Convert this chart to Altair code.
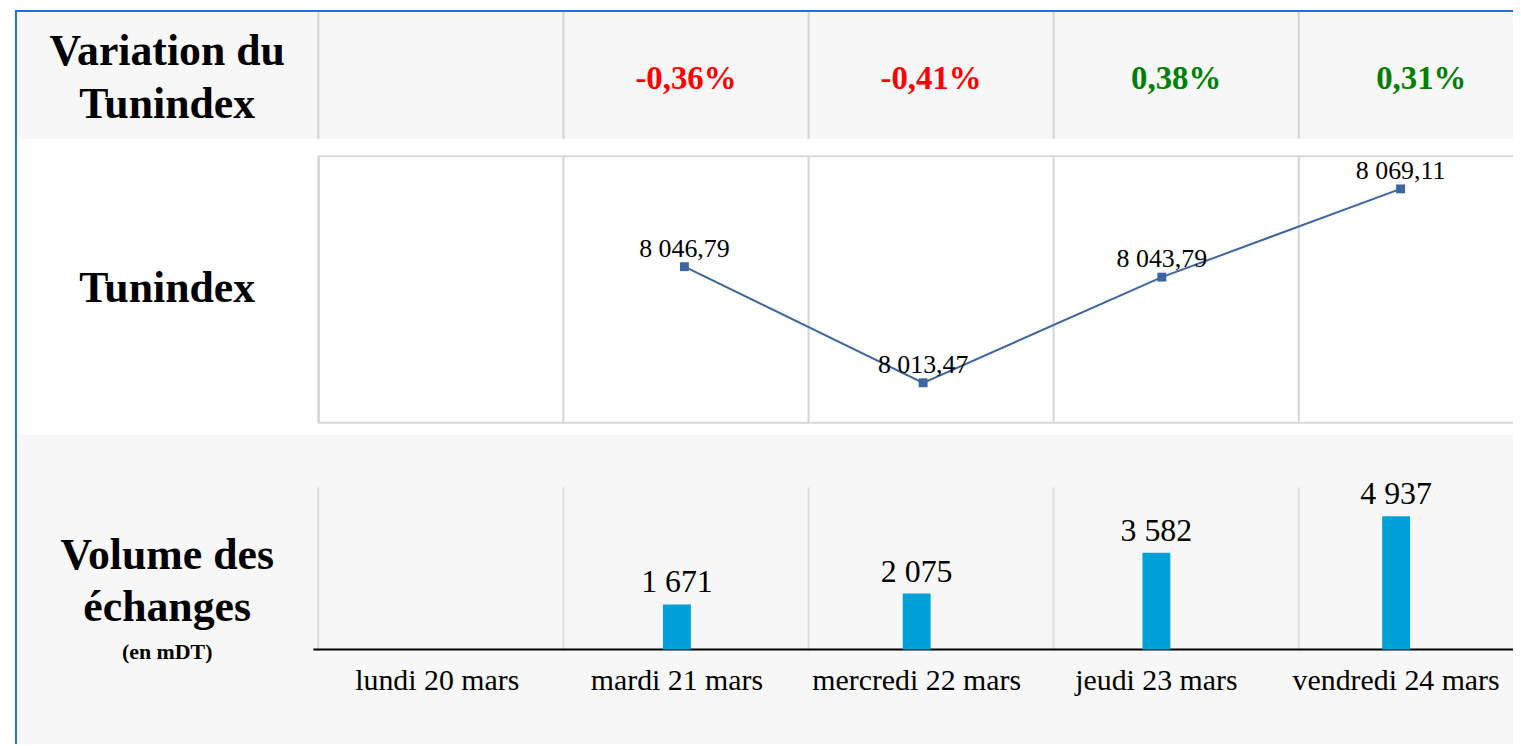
import altair as alt
import pandas as pd

# ---------------- data ----------------
days = ["lundi 20 mars", "mardi 21 mars", "mercredi 22 mars", "jeudi 23 mars", "vendredi 24 mars"]
tunindex = [None, 8046.79, 8013.47, 8043.79, 8069.11]
volume = [None, 1671, 2075, 3582, 4937]
variation = [None, -0.36, -0.41, 0.38, 0.31]

W, H = 1513, 738
FONT = "Liberation Serif"
GRID = "#d4d4d4"
BAND = "#f7f7f7"
BLUE_BORDER = "#2271d4"
LINE_COL = "#3c65a1"
BAR_COL = "#00a0d8"


def fr_num(v, dec):
    s = f"{v:,.{dec}f}"
    return s.replace(",", " ").replace(".", ",")


rows = []
for d, t, v, p in zip(days, tunindex, volume, variation):
    rows.append(dict(
        day=d, tun=t, vol=v, var=p,
        tun_lbl=fr_num(t, 2) if t is not None else "",
        vol_lbl=fr_num(v, 0) if v is not None else "",
        var_lbl=(f"{p:.2f}%".replace(".", ",")) if p is not None else "",
    ))
df = pd.DataFrame(rows)
df_days = df[["day"]]
df_vals = df.dropna(subset=["tun"]).copy()
one = pd.DataFrame({"k": [0]})

# ---------------- scales ----------------
xTable = alt.Scale(type="band", domain=days, range=[312, 1544], paddingInner=0, paddingOuter=0)
xBar = alt.Scale(type="band", domain=days, range=[311, 1516], paddingInner=0, paddingOuter=0)
xLine = alt.Scale(type="band", domain=days, range=[320, 1520], paddingInner=0, paddingOuter=0)
yBar = alt.Scale(domain=[0, 6000], range=[643, 480], zero=True)
yLine = alt.Scale(domain=[8002, 8078.5], range=[415, 147], zero=False)

base1 = alt.Chart(one)
baseD = alt.Chart(df_days)
baseV = alt.Chart(df_vals)

# backgrounds
bg_top = base1.mark_rect(color=BAND).encode(
    x=alt.value(9), x2=alt.value(W), y=alt.value(2), y2=alt.value(129.5))
bg_bot = base1.mark_rect(color=BAND).encode(
    x=alt.value(9), x2=alt.value(W), y=alt.value(427), y2=alt.value(H))

# blue border
border_left = base1.mark_rule(color=BLUE_BORDER, strokeWidth=2).encode(
    x=alt.value(8), y=alt.value(0), y2=alt.value(H))
border_top = base1.mark_rule(color=BLUE_BORDER, strokeWidth=2).encode(
    x=alt.value(7), x2=alt.value(W), y=alt.value(1))

# top band separators (table columns)
sep_top = baseD.mark_rule(color=GRID, strokeWidth=2).encode(
    x=alt.X("day:N", scale=xTable, bandPosition=0, axis=None),
    y=alt.value(2), y2=alt.value(129.5))

# middle frame + grid
frame = base1.mark_rect(fill="white", stroke="#d9d9d9", strokeWidth=2).encode(
    x=alt.value(312.5), x2=alt.value(W + 30), y=alt.value(147), y2=alt.value(415))
grid_mid = baseD.mark_rule(color=GRID, strokeWidth=2).encode(
    x=alt.X("day:N", scale=xTable, bandPosition=0, axis=None),
    y=alt.value(147), y2=alt.value(415))

# bottom grid + axis line
grid_bot = baseD.mark_rule(color="#dcdcdc", strokeWidth=2).encode(
    x=alt.X("day:N", scale=xTable, bandPosition=0, axis=None),
    y=alt.value(480), y2=alt.value(644))
axis_line = base1.mark_rule(color="black", strokeWidth=2).encode(
    x=alt.value(307), x2=alt.value(W), y=alt.value(643))

# bars
bars = baseV.mark_bar(color=BAR_COL, width=28).encode(
    x=alt.X("day:N", scale=xBar, axis=None),
    y=alt.Y("vol:Q", scale=yBar, axis=None))
bar_lbl = baseV.mark_text(dy=-12, baseline="alphabetic", fontSize=32, font=FONT, color="black").encode(
    x=alt.X("day:N", scale=xBar, bandPosition=0.5, axis=None),
    y=alt.Y("vol:Q", scale=yBar, axis=None),
    text="vol_lbl:N")

# line
line = baseV.mark_line(color=LINE_COL, strokeWidth=2).encode(
    x=alt.X("day:N", scale=xLine, bandPosition=0.5, axis=None),
    y=alt.Y("tun:Q", scale=yLine, axis=None))
pts = baseV.mark_point(shape="square", filled=True, size=80, color=LINE_COL, opacity=1).encode(
    x=alt.X("day:N", scale=xLine, bandPosition=0.5, axis=None),
    y=alt.Y("tun:Q", scale=yLine, axis=None))
line_lbl = baseV.mark_text(dy=-10, baseline="alphabetic", fontSize=26, font=FONT, color="black").encode(
    x=alt.X("day:N", scale=xLine, bandPosition=0.5, axis=None),
    y=alt.Y("tun:Q", scale=yLine, axis=None),
    text="tun_lbl:N")

# variation row
var_txt = baseV.mark_text(baseline="alphabetic", fontSize=33, font=FONT, fontWeight="bold").encode(
    x=alt.X("day:N", scale=xTable, bandPosition=0.5, axis=None),
    y=alt.value(79),
    text="var_lbl:N",
    color=alt.condition("datum.var < 0", alt.value("#ff0000"), alt.value("#008000")))

# row headers
hdr1 = base1.mark_text(baseline="alphabetic", fontSize=44, font=FONT, fontWeight="bold",
                       lineHeight=54, align="center", color="black").encode(
    x=alt.value(160), y=alt.value(55), text=alt.value(["Variation du", "Tunindex"]))
hdr2 = base1.mark_text(baseline="alphabetic", fontSize=44, font=FONT, fontWeight="bold",
                       align="center", color="black").encode(
    x=alt.value(160), y=alt.value(294), text=alt.value("Tunindex"))
hdr3 = base1.mark_text(baseline="alphabetic", fontSize=44, font=FONT, fontWeight="bold",
                       lineHeight=52, align="center", color="black").encode(
    x=alt.value(160), y=alt.value(562), text=alt.value(["Volume des", "échanges"]))
hdr3b = base1.mark_text(baseline="alphabetic", fontSize=22, font=FONT, fontWeight="bold",
                        align="center", color="black").encode(
    x=alt.value(160), y=alt.value(652), text=alt.value("(en mDT)"))

# x labels
xlbl = baseD.mark_text(baseline="alphabetic", fontSize=30, font=FONT, color="black").encode(
    x=alt.X("day:N", scale=xBar, bandPosition=0.5, axis=None),
    y=alt.value(684),
    text="day:N")

chart = alt.layer(
    bg_top, bg_bot, border_left, border_top, sep_top, frame, grid_mid, grid_bot,
    axis_line, bars, bar_lbl, line, pts, line_lbl, var_txt, hdr1, hdr2, hdr3, hdr3b, xlbl
).resolve_scale(x="independent", y="independent", color="independent").properties(
    width=W, height=H, autosize=alt.AutoSizeParams(type="none"), padding=0,
    background="white"
).configure_view(stroke=None)

chart.save("out.html", embed_options={"renderer": "svg", "actions": False})
